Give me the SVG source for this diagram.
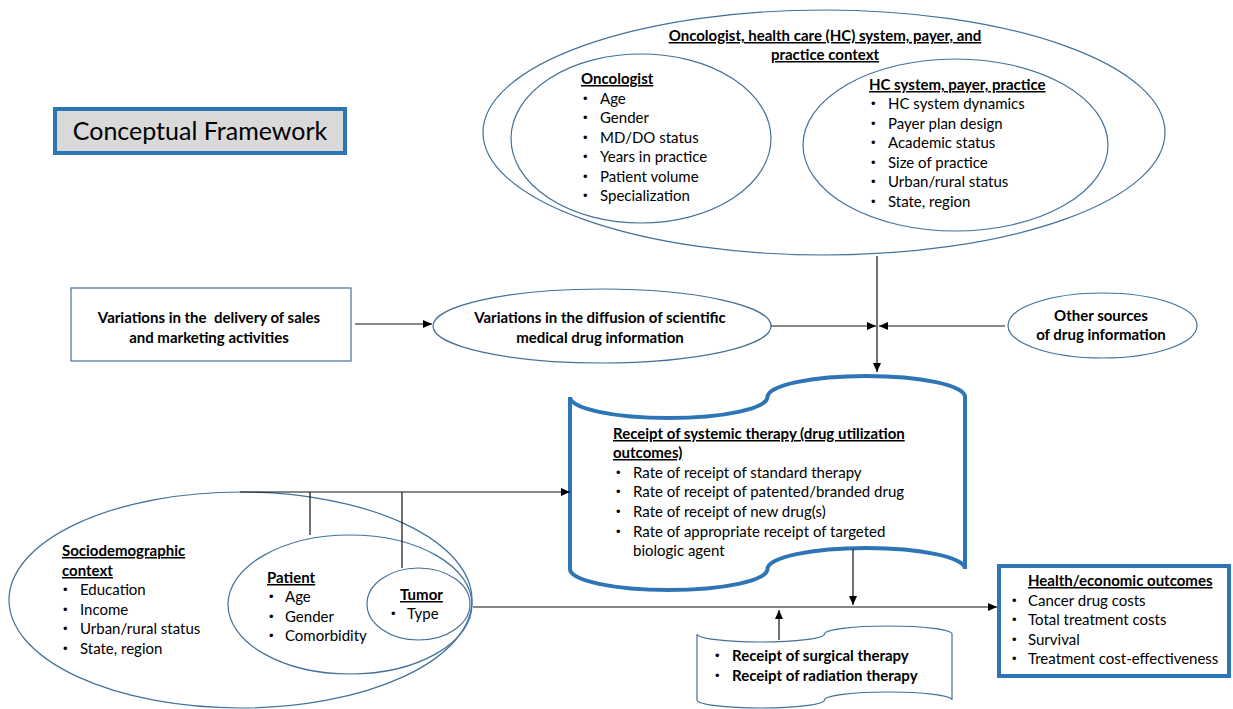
<svg xmlns="http://www.w3.org/2000/svg" width="1233" height="709" viewBox="0 0 1233 709">
<style>
text{font-family:Lato,"Liberation Sans",sans-serif;font-size:15px;fill:#000}
.b{font-weight:bold}
.u{font-weight:bold;text-decoration:underline}
.d{font-family:"Liberation Sans",Arial,sans-serif;font-size:13px}
.thin{fill:none;stroke:#41719c;stroke-width:1.2}
.thick{fill:#fff;stroke:#2e75b6;stroke-width:4}
.c{fill:none;stroke:#111;stroke-width:1.2}
</style>
<defs>
<marker id="ah" markerWidth="9" markerHeight="8" refX="9" refY="4" orient="auto" markerUnits="userSpaceOnUse"><path d="M0,0 L9,4 L0,8 z" fill="#000"/></marker>
</defs>
<rect width="1233" height="709" fill="#fff"/>

<g id="title">
<rect x="55" y="109" width="290" height="44" fill="#d9d9d9" stroke="#2e75b6" stroke-width="4"/>
<text x="200" y="140" text-anchor="middle" style="font-size:25px">Conceptual Framework</text>
</g>

<g id="context">
<ellipse class="thin" cx="824" cy="132.5" rx="341" ry="122.5"/>
<text class="u" x="825" y="41" text-anchor="middle">Oncologist, health care (HC) system, payer, and</text>
<text class="u" x="825" y="60" text-anchor="middle">practice context</text>
</g>

<g id="oncologist">
<ellipse class="thin" cx="641" cy="138.5" rx="130" ry="84.5"/>
<text class="u" x="581" y="84">Oncologist</text>
<text class="d" x="583" y="103">•</text><text x="600" y="104">Age</text>
<text class="d" x="583" y="122">•</text><text x="600" y="123">Gender</text>
<text class="d" x="583" y="142">•</text><text x="600" y="143">MD/DO status</text>
<text class="d" x="583" y="161">•</text><text x="600" y="162">Years in practice</text>
<text class="d" x="583" y="181">•</text><text x="600" y="182">Patient volume</text>
<text class="d" x="583" y="200">•</text><text x="600" y="201">Specialization</text>
</g>

<g id="hcsystem">
<ellipse class="thin" cx="955.5" cy="145" rx="152.5" ry="86"/>
<text class="u" x="869" y="90">HC system, payer, practice</text>
<text class="d" x="871" y="108">•</text><text x="888" y="109">HC system dynamics</text>
<text class="d" x="871" y="128">•</text><text x="888" y="129">Payer plan design</text>
<text class="d" x="871" y="147">•</text><text x="888" y="148">Academic status</text>
<text class="d" x="871" y="167">•</text><text x="888" y="168">Size of practice</text>
<text class="d" x="871" y="186">•</text><text x="888" y="187">Urban/rural status</text>
<text class="d" x="871" y="206">•</text><text x="888" y="207">State, region</text>
</g>

<g id="sales">
<rect x="71" y="288" width="280" height="73" fill="#fff" stroke="#41719c" stroke-width="1.2"/>
<text class="b" x="209" y="323" text-anchor="middle" xml:space="preserve">Variations in the  delivery of sales</text>
<text class="b" x="209" y="343" text-anchor="middle">and marketing activities</text>
</g>

<g id="diffusion">
<ellipse class="thin" cx="602" cy="326" rx="169" ry="37"/>
<text class="b" x="600" y="323" text-anchor="middle">Variations in the diffusion of scientific</text>
<text class="b" x="600" y="343" text-anchor="middle">medical drug information</text>
</g>

<g id="othersources">
<ellipse class="thin" cx="1102.5" cy="325.5" rx="94.5" ry="32.5"/>
<text class="b" x="1101" y="321" text-anchor="middle">Other sources</text>
<text class="b" x="1101" y="340" text-anchor="middle">of drug information</text>
</g>

<g id="systemic">
<path class="thick" d="M570,397 A98.75,21 0 0 0 767.5,397 A98.75,21 0 0 1 965,397 L965,569 A98.75,21 0 0 0 767.5,569 A98.75,21 0 0 1 570,569 Z"/>
<text class="u" x="613" y="439">Receipt of systemic therapy (drug utilization</text>
<text class="u" x="613" y="458">outcomes)</text>
<text class="d" x="616" y="477">•</text><text x="633" y="478">Rate of receipt of standard therapy</text>
<text class="d" x="616" y="496">•</text><text x="633" y="497">Rate of receipt of patented/branded drug</text>
<text class="d" x="616" y="516">•</text><text x="633" y="517">Rate of receipt of new drug(s)</text>
<text class="d" x="616" y="536">•</text><text x="633" y="537">Rate of appropriate receipt of targeted</text>
<text x="633" y="556">biologic agent</text>
</g>

<g id="sociodemographic">
<ellipse class="thin" cx="240.5" cy="600" rx="231.5" ry="108"/>
<text class="u" x="62" y="556">Sociodemographic</text>
<text class="u" x="62" y="576">context</text>
<text class="d" x="63" y="594">•</text><text x="80" y="595">Education</text>
<text class="d" x="63" y="614">•</text><text x="80" y="615">Income</text>
<text class="d" x="63" y="633">•</text><text x="80" y="634">Urban/rural status</text>
<text class="d" x="63" y="653">•</text><text x="80" y="654">State, region</text>
</g>

<g id="patient">
<ellipse class="thin" cx="350" cy="604.5" rx="122" ry="69.5"/>
<text class="u" x="267" y="583">Patient</text>
<text class="d" x="269" y="601">•</text><text x="285" y="602">Age</text>
<text class="d" x="269" y="621">•</text><text x="285" y="622">Gender</text>
<text class="d" x="269" y="640">•</text><text x="285" y="641">Comorbidity</text>
</g>

<g id="tumor">
<ellipse class="thin" cx="418.5" cy="604" rx="51.5" ry="36"/>
<text class="u" x="400" y="600">Tumor</text>
<text class="d" x="391" y="618">•</text><text x="407" y="619">Type</text>
</g>

<g id="surgical">
<path fill="#fff" stroke="#41719c" stroke-width="1.2" d="M697,634 A63.75,8 0 0 0 824.5,634 A63.75,8 0 0 1 952,634 L952,700 A63.75,8 0 0 0 824.5,700 A63.75,8 0 0 1 697,700 Z"/>
<text class="d" x="715" y="660">•</text><text class="b" x="732" y="661">Receipt of surgical therapy</text>
<text class="d" x="715" y="680">•</text><text class="b" x="732" y="681">Receipt of radiation therapy</text>
</g>

<g id="outcomes">
<rect x="999" y="566" width="230" height="110" fill="#fff" stroke="#2e75b6" stroke-width="4"/>
<text class="u" x="1028" y="586">Health/economic outcomes</text>
<text class="d" x="1012" y="605">•</text><text x="1028" y="606">Cancer drug costs</text>
<text class="d" x="1012" y="624">•</text><text x="1028" y="625">Total treatment costs</text>
<text class="d" x="1012" y="644">•</text><text x="1028" y="645">Survival</text>
<text class="d" x="1012" y="663">•</text><text x="1028" y="664">Treatment cost-effectiveness</text>
</g>

<g id="connectors">
<line class="c" x1="877" y1="256" x2="877" y2="372" marker-end="url(#ah)"/>
<line class="c" x1="771" y1="326" x2="876" y2="326" marker-end="url(#ah)"/>
<line class="c" x1="1005" y1="326" x2="879" y2="326" marker-end="url(#ah)"/>
<line class="c" x1="355" y1="324" x2="432" y2="324" marker-end="url(#ah)"/>
<line class="c" x1="240" y1="492" x2="570" y2="492" marker-end="url(#ah)"/>
<line class="c" x1="310" y1="492" x2="310" y2="535"/>
<line class="c" x1="402" y1="492" x2="402" y2="568"/>
<line class="c" x1="473" y1="607" x2="997" y2="607" marker-end="url(#ah)"/>
<line class="c" x1="853" y1="549" x2="853" y2="605" marker-end="url(#ah)"/>
<line class="c" x1="779" y1="640" x2="779" y2="610" marker-end="url(#ah)"/>
</g>
</svg>
